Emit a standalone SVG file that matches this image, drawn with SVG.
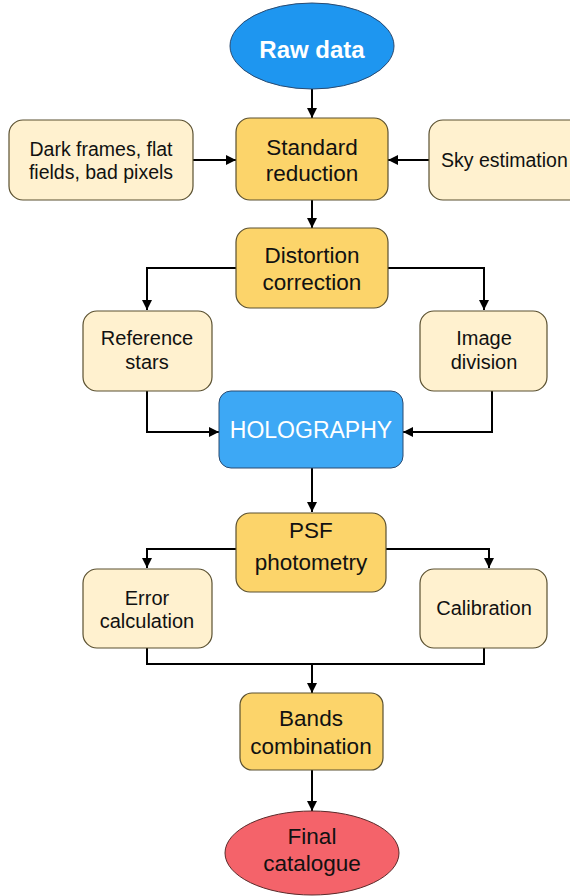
<svg xmlns="http://www.w3.org/2000/svg" width="570" height="896" viewBox="0 0 570 896">
<defs>
<marker id="ah" viewBox="0 0 10 10" refX="10" refY="5" markerWidth="10" markerHeight="10" markerUnits="userSpaceOnUse" orient="auto">
<path d="M0,0 L10,5 L0,10 z" fill="#000"/>
</marker>
<style>
text{font-family:"Liberation Sans",Arial,sans-serif;text-anchor:middle;fill:#111}
.main{fill:#FCD46A;stroke:#5a5030;stroke-width:1.2}
.side{fill:#FFF1CF;stroke:#5a5030;stroke-width:1.2}
.big{font-size:22.5px}
.small{font-size:20px}
.conn{fill:none;stroke:#000;stroke-width:2;marker-end:url(#ah)}
.plain{fill:none;stroke:#000;stroke-width:2}
</style>
</defs>
<rect width="570" height="896" fill="#fff"/>
<g id="connectors">
<path class="conn" d="M312,89 V118"/>
<path class="conn" d="M193,160 H236"/>
<path class="conn" d="M429,160 H388"/>
<path class="conn" d="M312,200 V228"/>
<path class="conn" d="M236,268 H147 V310"/>
<path class="conn" d="M388,268 H484 V310"/>
<path class="conn" d="M147,391 V432 H219"/>
<path class="conn" d="M492,391 V432 H403"/>
<path class="conn" d="M312,468 V512"/>
<path class="conn" d="M236,549 H147 V568"/>
<path class="conn" d="M386,549 H489 V568"/>
<path class="plain" d="M147,648 V664 H484 V648"/>
<path class="conn" d="M312,664 V693"/>
<path class="conn" d="M312,770 V811"/>
</g>
<g id="raw">
<ellipse cx="312" cy="46" rx="82" ry="43" fill="#1E96F0" stroke="#2a4a70" stroke-width="1"/>
<text x="312" y="58" style="font-size:24px;font-weight:bold;fill:#fff">Raw data</text>
</g>
<g id="dark">
<rect class="side" x="9" y="120" width="184" height="80" rx="14"/>
<text class="small" x="101" y="156" style="font-size:19.5px">Dark frames, flat</text>
<text class="small" x="101" y="179" style="font-size:19.5px">fields, bad pixels</text>
</g>
<g id="standard">
<rect class="main" x="236" y="118" width="152" height="82" rx="14"/>
<text class="big" x="312" y="155">Standard</text>
<text class="big" x="312" y="181">reduction</text>
</g>
<g id="sky">
<rect class="side" x="429" y="120" width="170" height="80" rx="14"/>
<text class="small" x="441" y="167" style="text-anchor:start;font-size:19.5px">Sky estimation</text>
</g>
<g id="distortion">
<rect class="main" x="236" y="228" width="152" height="80" rx="14"/>
<text class="big" x="312" y="263">Distortion</text>
<text class="big" x="312" y="290">correction</text>
</g>
<g id="refstars">
<rect class="side" x="83" y="311" width="129" height="80" rx="14"/>
<text class="small" x="147" y="345">Reference</text>
<text class="small" x="147" y="369">stars</text>
</g>
<g id="imagediv">
<rect class="side" x="420" y="311" width="127" height="80" rx="14"/>
<text class="small" x="484" y="345">Image</text>
<text class="small" x="484" y="369">division</text>
</g>
<g id="holography">
<rect x="219" y="391" width="184" height="77" rx="12" fill="#3DA8F5" stroke="#2a4a70" stroke-width="1"/>
<text x="311" y="438" style="font-size:23px;fill:#fff">HOLOGRAPHY</text>
</g>
<g id="psf">
<rect class="main" x="236" y="513" width="150" height="79" rx="14"/>
<text class="big" x="311" y="538">PSF</text>
<text class="big" x="311" y="570">photometry</text>
</g>
<g id="error">
<rect class="side" x="83" y="569" width="129" height="79" rx="14"/>
<text class="small" x="147" y="605">Error</text>
<text class="small" x="147" y="628">calculation</text>
</g>
<g id="calibration">
<rect class="side" x="420" y="569" width="127" height="79" rx="14"/>
<text class="small" x="484" y="615">Calibration</text>
</g>
<g id="bands">
<rect class="main" x="240" y="693" width="143" height="77" rx="12"/>
<text class="big" x="311" y="726">Bands</text>
<text class="big" x="311" y="754">combination</text>
</g>
<g id="final">
<ellipse cx="312" cy="853" rx="87" ry="42" fill="#F4636A" stroke="#5a2a2a" stroke-width="1"/>
<text class="big" x="312" y="844">Final</text>
<text class="big" x="312" y="871">catalogue</text>
</g>
</svg>
